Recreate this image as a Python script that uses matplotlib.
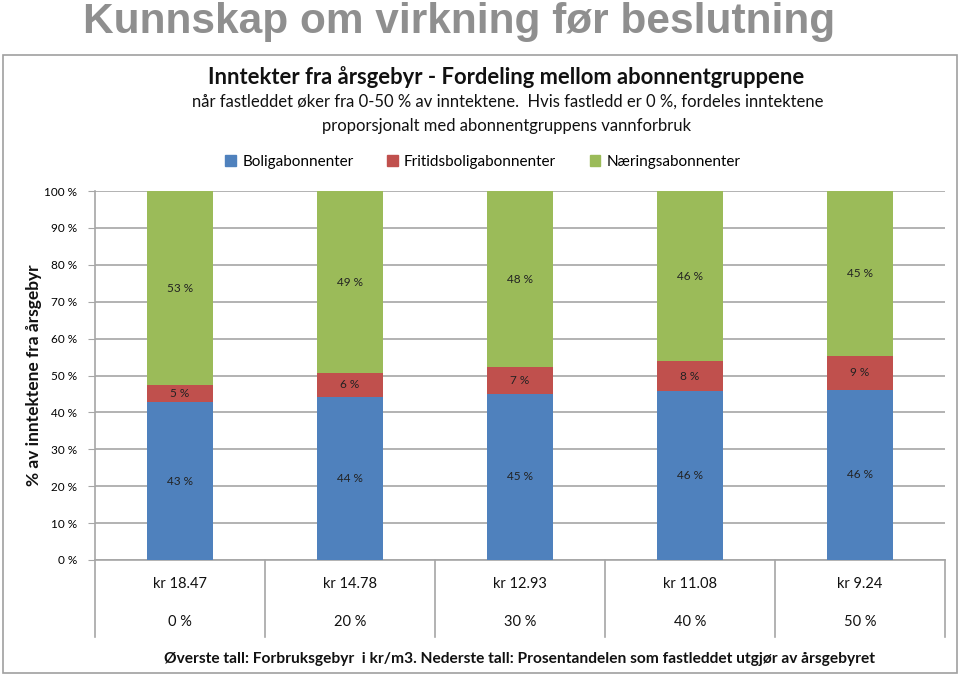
import numpy as np
import matplotlib.pyplot as plt
from matplotlib.patches import Rectangle, Patch

# data
fastledd = ["0 %", "20 %", "30 %", "40 %", "50 %"]
forbruksgebyr = ["kr 18.47", "kr 14.78", "kr 12.93", "kr 11.08", "kr 9.24"]
bolig = [42.8, 44.3, 45.0, 45.8, 46.2]
fritid = [4.6, 6.3, 7.3, 8.1, 9.2]
naering = [52.6, 49.4, 47.7, 46.1, 44.6]
series_names = ["Boligabonnenter", "Fritidsboligabonnenter", "Næringsabonnenter"]
colors = ["#4f81bd", "#c0504d", "#9bbb59"]

plt.rcParams['font.family'] = ['Lato', 'DejaVu Sans']

W, H = 960, 676
fig = plt.figure(figsize=(W / 100, H / 100), dpi=100)

def fx(px):
    return px / W

def fy(py):
    return 1 - py / H

# outer frame
fig.patches.append(Rectangle((fx(3), fy(673)), fx(954), (673 - 55) / H,
                             transform=fig.transFigure, fill=False,
                             edgecolor="#a0a0a0", linewidth=1.2))

fig.text(fx(83), fy(33), "Kunnskap om virkning før beslutning", family="Liberation Sans",
         fontsize=30.5, fontweight="bold", color="#8f8f8f", ha="left", va="baseline")

fig.text(fx(506), fy(77), "Inntekter fra årsgebyr - Fordeling mellom abonnentgruppene",
         fontsize=15.8, fontweight="bold", ha="center", va="center", color="#111")
fig.text(fx(508), fy(102), "når fastleddet øker fra 0-50 % av inntektene.  Hvis fastledd er 0 %, fordeles inntektene",
         fontsize=12, ha="center", va="center", color="#111")
fig.text(fx(507), fy(126), "proporsjonalt med abonnentgruppens vannforbruk",
         fontsize=12, ha="center", va="center", color="#111")

ax = fig.add_axes([fx(95), fy(560), fx(850), (560 - 191) / H])

x = np.arange(len(fastledd))
width = 0.394
bottoms = np.zeros(len(x))
for vals, c, name in zip([bolig, fritid, naering], colors, series_names):
    vals = np.array(vals)
    ax.bar(x, vals, width, bottom=bottoms, color=c, label=name, zorder=3)
    for xi, b, v in zip(x, bottoms, vals):
        ax.text(xi, b + v / 2, f"{int(round(v))} %", ha="center", va="center",
                fontsize=8.5, color="#222", zorder=4)
    bottoms += vals

ax.set_xlim(-0.5, len(x) - 0.5)
ax.set_ylim(0, 100)
ax.set_yticks(np.arange(0, 101, 10))
ax.set_yticklabels([f"{t} %" for t in range(0, 101, 10)], fontsize=8.5)
ax.set_xticks([])
ax.yaxis.grid(True, color="#a6a6a6", linewidth=1.2, zorder=0)
ax.tick_params(axis="y", length=5, color="#a6a6a6", pad=8)
for s in ["top", "right"]:
    ax.spines[s].set_visible(False)
ax.spines["left"].set_color("#a6a6a6")
ax.spines["bottom"].set_color("#a6a6a6")
ax.spines["left"].set_linewidth(1.2)
ax.spines["bottom"].set_linewidth(1.2)

ax.set_ylabel("% av inntektene fra årsgebyr", fontsize=12.5, fontweight="bold", color="#111")
ax.yaxis.set_label_coords(-(95 - 42) / 850, 0.5)

# table under the axis
ylow = -(637 - 560) / 3.69
for b in np.arange(-0.5, len(x), 1.0):
    ax.plot([b, b], [0, ylow], color="#a6a6a6", lw=1.2, clip_on=False)
for xi, kr, pct in zip(x, forbruksgebyr, fastledd):
    ax.text(xi, -(584 - 560) / 3.69, kr, ha="center", va="center", fontsize=10.5,
            color="#111", clip_on=False)
    ax.text(xi, -(622 - 560) / 3.69, pct, ha="center", va="center", fontsize=10.5,
            color="#111", clip_on=False)

fig.text(fx(520), fy(659),
         "Øverste tall: Forbruksgebyr  i kr/m3. Nederste tall: Prosentandelen som fastleddet utgjør av årsgebyret",
         fontsize=11.2, fontweight="bold", ha="center", va="center", color="#111")

handles = [Patch(color=c) for c in colors]
fig.legend(handles, series_names, loc="center", bbox_to_anchor=(fx(483), fy(162)),
           ncol=3, frameon=False, fontsize=11, handlelength=0.7, handleheight=0.7,
           handletextpad=0.4, columnspacing=2.2)

fig.savefig("out.png", dpi=100)
